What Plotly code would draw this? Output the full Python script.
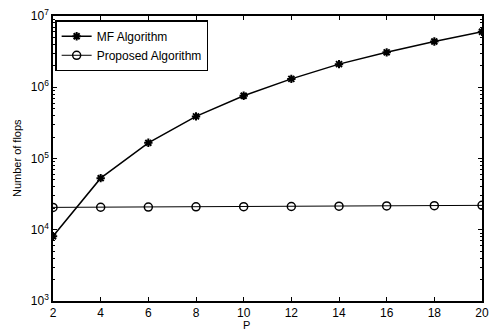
import plotly.graph_objects as go
import numpy as np

P = [2, 4, 6, 8, 10, 12, 14, 16, 18, 20]
mf_flops = [8.1e3, 5.3e4, 1.66e5, 3.9e5, 7.6e5, 1.31e6, 2.11e6, 3.09e6, 4.38e6, 6.0e6]
proposed_flops = [2.06e4, 2.07e4, 2.08e4, 2.1e4, 2.11e4, 2.12e4, 2.14e4, 2.16e4, 2.18e4, 2.2e4]
x_ticks = [2, 4, 6, 8, 10, 12, 14, 16, 18, 20]
y_tickvals = [1e3, 1e4, 1e5, 1e6, 1e7]
y_ticktext = ["10<sup>3</sup>", "10<sup>4</sup>", "10<sup>5</sup>", "10<sup>6</sup>", "10<sup>7</sup>"]

minor_vals = [m * 10**e for e in range(3, 7) for m in range(2, 10)]

fig = go.Figure()
fig.add_trace(go.Scatter(
    x=P, y=mf_flops, name="MF Algorithm", mode="lines+markers",
    line=dict(color="black", width=1.5),
    marker=dict(symbol="asterisk-open", size=7, color="black", line=dict(width=2, color="black")),
))
fig.add_trace(go.Scatter(
    x=P, y=proposed_flops, name="Proposed Algorithm", mode="lines+markers",
    line=dict(color="black", width=1),
    marker=dict(symbol="circle-open", size=8, color="black", line=dict(width=1.5, color="black")),
))

ff = "Liberation Sans, Arial, sans-serif"
fig.update_layout(
    width=496, height=332,
    margin=dict(l=53, r=7, t=16, b=31),
    paper_bgcolor="white", plot_bgcolor="white",
    font=dict(family=ff, size=12, color="black"),
    showlegend=True,
    legend=dict(x=0.005, y=0.985, xanchor="left", yanchor="top",
                bordercolor="black", borderwidth=1.5, bgcolor="white",
                font=dict(family=ff, size=12, color="black"),
                tracegroupgap=0, itemwidth=30),
)
fig.update_xaxes(
    range=[2, 20], tickvals=x_ticks, ticks="inside", ticklen=4, tickcolor="black",
    showline=True, linecolor="black", linewidth=1.5, mirror="ticks",
    showgrid=False, zeroline=False,
    tickfont=dict(family=ff, size=12, color="black"),
)
fig.update_yaxes(
    type="log", range=[3, 7], tickvals=y_tickvals, ticktext=y_ticktext,
    ticks="inside", ticklen=4, tickcolor="black",
    showline=True, linecolor="black", linewidth=1.5, mirror="ticks",
    showgrid=False, zeroline=False,
    minor=dict(tickmode="array", tickvals=minor_vals, ticks="inside", ticklen=2, tickcolor="black", showgrid=False),
    tickfont=dict(family=ff, size=12, color="black"),
)
fig.add_annotation(text="Number of flops", textangle=-90, xref="paper", yref="paper",
                   x=-0.085, y=0.5, xanchor="center", yanchor="middle", showarrow=False,
                   font=dict(family=ff, size=11, color="black"))
fig.add_annotation(text="P", xref="paper", yref="paper", x=0.45, y=-0.113,
                   xanchor="center", yanchor="bottom", showarrow=False,
                   font=dict(family=ff, size=11, color="black"))

fig.write_html("out.html")
